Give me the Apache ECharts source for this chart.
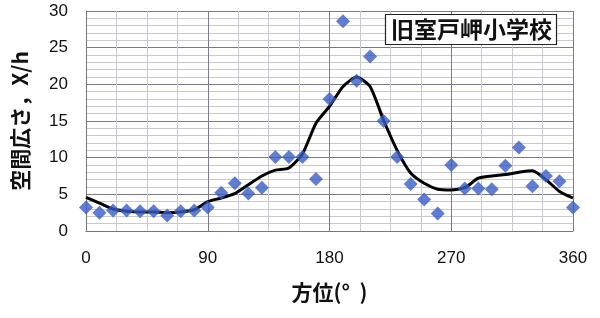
<!DOCTYPE html>
<html>
<head>
<meta charset="utf-8">
<script src="https://cdn.jsdelivr.net/npm/echarts@6/dist/echarts.min.js"></script>
<style>
html,body{margin:0;padding:0;background:#fff;}
#chart{width:600px;height:318px;}
</style>
</head>
<body>
<div id="chart"></div>
<script>
// Azimuth (degrees) of each measured point
const azimuths = [0,10,20,30,40,50,60,70,80,90,100,110,120,130,140,150,160,170,180,190,200,210,220,230,240,250,260,270,280,290,300,310,320,330,340,350,360];
// Measured values (diamonds)
const measured = [3.2,2.5,2.8,2.8,2.7,2.7,2.1,2.7,2.8,3.2,5.2,6.5,5.1,5.9,10.1,10.1,10.1,7.1,18.0,28.6,20.5,23.8,15.0,10.1,6.4,4.3,2.4,9.0,5.8,5.8,5.7,8.9,11.4,6.1,7.5,6.8,3.2];
// Smoothed trend line
const trend = [4.6,3.8,3.0,2.7,2.6,2.6,2.5,2.6,2.9,4.0,4.5,5.1,6.3,7.5,8.3,8.6,10.5,14.7,17.0,19.7,21.0,19.7,15.1,11.0,7.9,6.5,5.7,5.6,5.9,7.2,7.5,7.7,8.0,8.2,7.0,5.4,4.5];
const xTicks = [0,90,180,270,360];
const yTicks = [0,5,10,15,20,25,30];
const titleText = '旧室戸岬小学校';
const xName = '方位(°  )';
const yName = '空間広さ，X/h';

const chart = echarts.init(document.getElementById('chart'));
const font = '"Liberation Sans", "Noto Sans CJK JP", sans-serif';
chart.setOption({
  animation: false,
  backgroundColor: '#fff',
  title: {
    text: titleText,
    left: 385, top: 14,
    padding: [4, 5, 4, 6],
    borderColor: '#222', borderWidth: 1.2, backgroundColor: '#fff',
    textStyle: {fontSize: 23, fontWeight: 'bold', color: '#111', fontFamily: '"Noto Sans CJK JP", sans-serif'}
  },
  grid: {left: 86, right: 27, top: 11, bottom: 87, outerBoundsMode: 'none', containLabel: false},
  xAxis: {
    type: 'value', min: 0, max: 360, interval: 90,
    name: xName, nameLocation: 'middle', nameGap: 51,
    nameTextStyle: {fontSize: 21, fontWeight: 'bold', color: '#111', fontFamily: '"Noto Sans CJK JP", sans-serif'},
    axisLine: {show: true, lineStyle: {color: '#777', width: 1}},
    axisTick: {show: false},
    axisLabel: {fontSize: 17, color: '#111', margin: 19, fontFamily: font,
      formatter: v => xTicks.includes(v) ? String(v) : ''},
    splitLine: {show: true, lineStyle: {color: '#7a7a8a', width: 1}},
    minorTick: {show: false, splitNumber: 4},
    minorSplitLine: {show: true, lineStyle: {color: '#c8c8d0', width: 1}}
  },
  yAxis: {
    type: 'value', min: 0, max: 30, interval: 5,
    name: yName, nameLocation: 'middle', nameGap: 55, nameRotate: 90,
    nameTextStyle: {fontSize: 21, fontWeight: 'bold', color: '#111', fontFamily: '"Noto Sans CJK JP", sans-serif'},
    axisLine: {show: true, lineStyle: {color: '#777', width: 1}},
    axisTick: {show: false},
    axisLabel: {fontSize: 17, color: '#111', margin: 18, fontFamily: font,
      formatter: v => yTicks.includes(v) ? String(v) : ''},
    splitLine: {show: true, lineStyle: {color: '#7a7a8a', width: 1}},
    minorTick: {show: false, splitNumber: 5},
    minorSplitLine: {show: true, lineStyle: {color: '#c8c8d0', width: 1}}
  },
  series: [
    {
      type: 'line', smooth: 0.2, showSymbol: false,
      data: azimuths.map((a, i) => [a, trend[i]]),
      lineStyle: {color: '#000', width: 3},
      z: 2
    },
    {
      type: 'scatter', symbol: 'diamond', symbolSize: 14,
      data: azimuths.map((a, i) => [a, measured[i]]),
      itemStyle: {color: '#3a5cc4'},
      z: 3
    }
  ]
});
</script>
</body>
</html>
